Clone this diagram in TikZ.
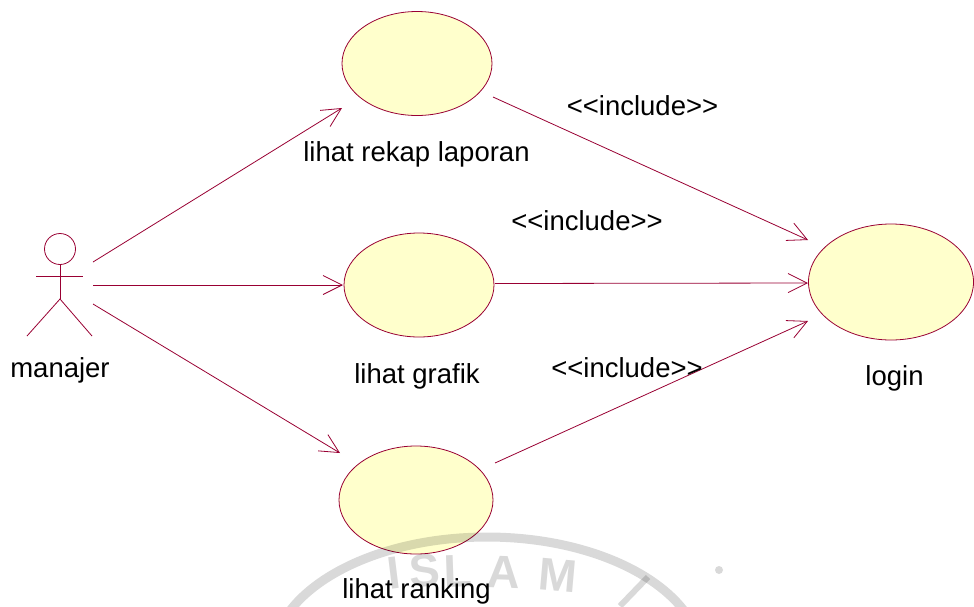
\documentclass[tikz,border=0pt]{standalone}
\usepackage{fontspec}
\setmainfont{Liberation Sans}
\usetikzlibrary{shapes.geometric,arrows.meta,calc}
\definecolor{umlline}{RGB}{153,0,51}
\definecolor{umlfill}{RGB}{255,255,204}
\newcommand{\stereo}[1]{{<}{<}#1{>}{>}}
\begin{document}
\begin{tikzpicture}[x=1pt,y=-1pt,
  usecase/.style={ellipse,draw=umlline,line width=0.8pt,fill=umlfill,
    minimum width=150pt,minimum height=104pt,inner sep=0pt},
  txt/.style={anchor=base,inner sep=0pt,font=\fontsize{27.5}{30}\selectfont},
  assoc/.style={draw=umlline,line width=0.8pt,
    -{Straight Barb[length=19pt,width=19pt,line width=0.8pt]}},
  actorline/.style={draw=umlline,line width=0.8pt},
  wm/.style={draw=black,opacity=0.15,line width=9pt},
  wmletter/.style={text=black,text opacity=0.15,inner sep=0pt,
    font=\bfseries\fontsize{46}{46}\selectfont}]
\useasboundingbox (0,0) rectangle (974,606);
\fill[white] (0,0) rectangle (974,606);

% actor
\coordinate (actor) at (60,285);
\draw[actorline] ($(actor)+(0,-36)$) circle[radius=15.5pt];
\draw[actorline] ($(actor)+(-24,-9)$) -- ($(actor)+(23,-9)$);
\draw[actorline] ($(actor)+(0,-20)$) -- ($(actor)+(0,14)$);
\draw[actorline] ($(actor)+(-33,51)$) -- ($(actor)+(0,14)$) -- ($(actor)+(32,51)$);
\node[txt] (manajer) at (60,377) {manajer};

% use cases
\node[usecase] (rekap) at (417,63.5) {};
\node[usecase] (grafik) at (419,285) {};
\node[usecase,minimum width=154pt,minimum height=108pt] (ranking) at (416,500) {};
\node[usecase,minimum width=165pt,minimum height=116pt] (login) at (891,282) {};

% faint seal in the lower part, lying under the labels
\begin{scope}
\clip (0,0) rectangle (974,606);
\draw[wm] (487,660) ellipse[x radius=215pt,y radius=123pt];
\draw[wm,line width=6pt] ([shift={(160:170pt and 95pt)}]487,690) arc[start angle=160,end angle=148,x radius=170pt,y radius=95pt];
\draw[wm,line width=6pt] (648,577) -- (620,606);
\fill[black,opacity=0.15] (719,570) circle[radius=4pt];
\end{scope}
\node[wmletter,rotate=7] (wmI) at (394,573) {I};
\node[wmletter,rotate=4] (wmS) at (425,571) {S};
\node[wmletter,rotate=2] (wmL) at (458,571) {L};
\node[wmletter,rotate=-2] (wmA) at (504,572) {A};
\node[wmletter,rotate=-5] (wmM) at (558,575) {M};

\node[txt] (rekaplbl) at (416.5,161) {lihat rekap laporan};
\node[txt] (grafiklbl) at (417,383) {lihat grafik};
\node[txt] (rankinglbl) at (416.5,598) {lihat ranking};
\node[txt] (loginlbl) at (894.5,385) {login};

% associations from the actor
\draw[assoc] ($(actor)+(33,-23)$) -- ($(rekap)+(-75,44.5)$);
\draw[assoc] ($(actor)+(33,0)$) -- ($(grafik)+(-76,0)$);
\draw[assoc] ($(actor)+(33,19)$) -- ($(ranking)+(-76,-47)$);

% include relations
\draw[assoc] ($(rekap)+(76,33.5)$) -- ($(login)+(-83,-42)$);
\draw[assoc] ($(grafik)+(76,-1.5)$) -- ($(login)+(-83,1)$);
\draw[assoc] ($(ranking)+(79,-37)$) -- ($(login)+(-83,39)$);

\node[txt] (inc1) at (642.5,115) {\stereo{include}};
\node[txt] (inc2) at (587,230) {\stereo{include}};
\node[txt] (inc3) at (627,377) {\stereo{include}};
\end{tikzpicture}
\end{document}
